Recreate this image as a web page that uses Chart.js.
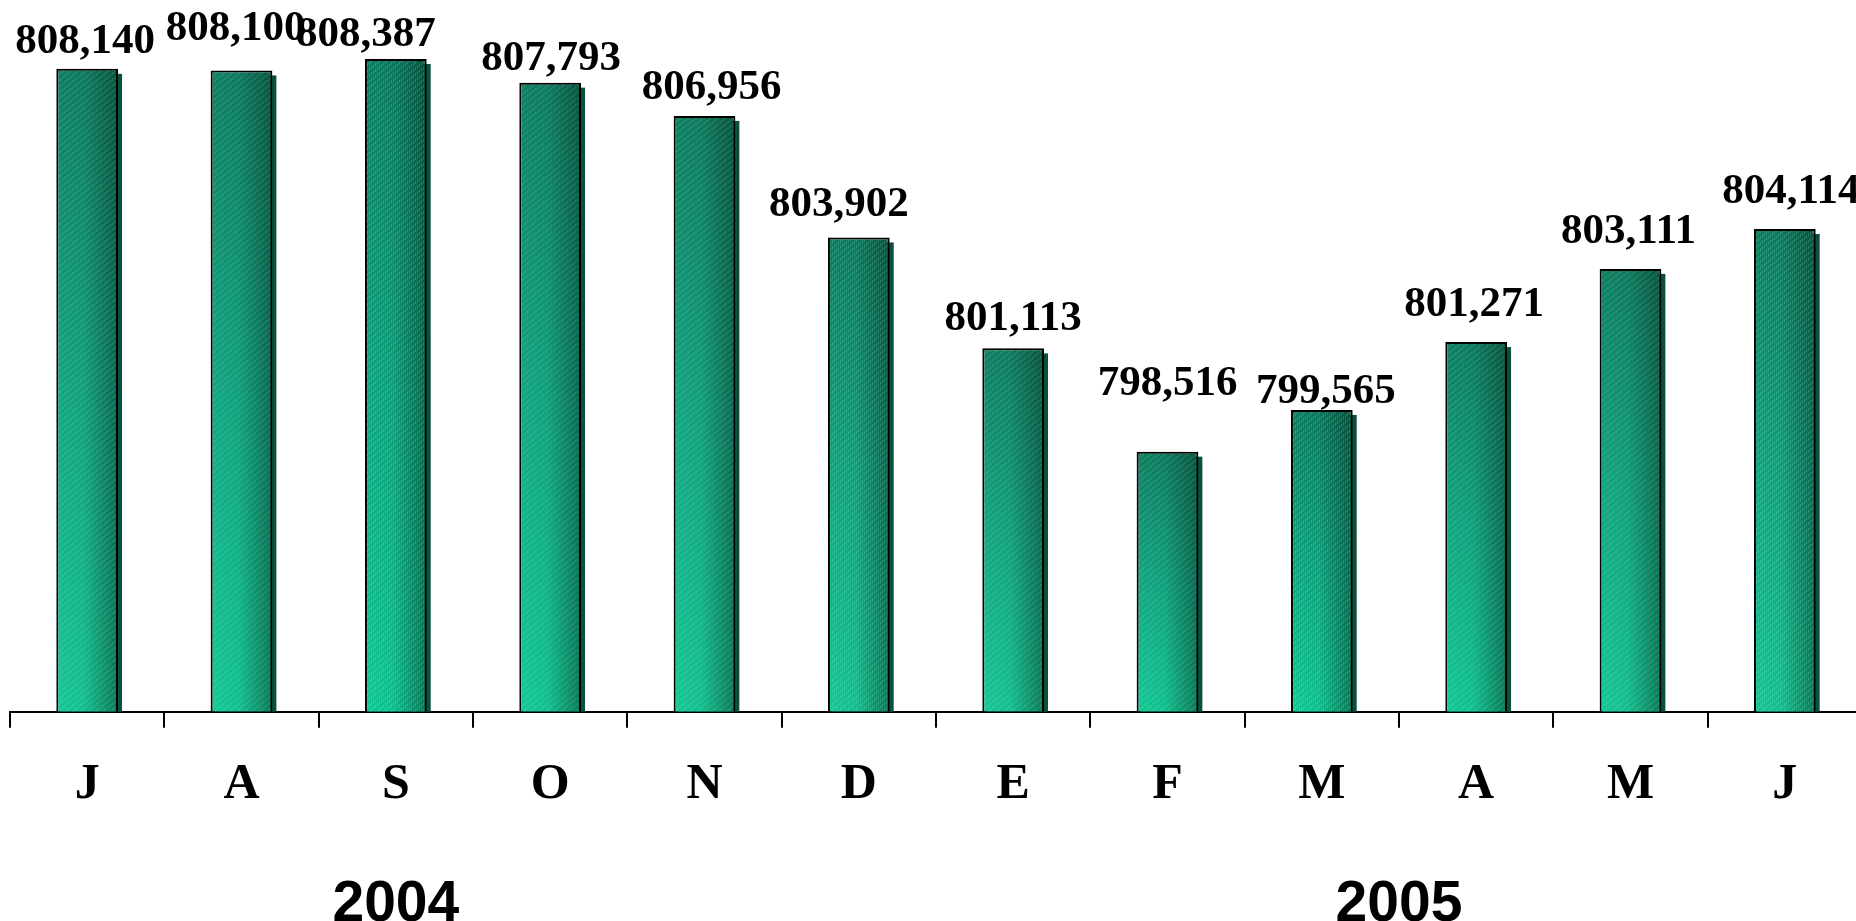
<!DOCTYPE html>
<html>
<head>
<meta charset="utf-8">
<script src="https://cdn.jsdelivr.net/npm/chart.js@4.4.1/dist/chart.umd.min.js"></script>
<style>
  html, body { margin: 0; padding: 0; background: #fff; overflow: hidden; }
  .chartArea { position: relative; width: 1872px; height: 921px; }
</style>
</head>
<body>
<div class="chartArea"><canvas id="chart"></canvas></div>
<script>
const months = ["J", "A", "S", "O", "N", "D", "E", "F", "M", "A", "M", "J"];
const lines = [808140, 808100, 808387, 807793, 806956, 803902, 801113, 798516, 799565, 801271, 803111, 804114];
const years = ["2004", "2005"];
const yearAt = [2, 8.5]; // category index under which each year sits

const yMin = 791980;
const yMax = 809870;

// textured teal fill, one per bar
function barFill(ctx, el) {
  const w = Math.max(1, Math.round(el.width));
  const h = Math.max(1, Math.round(el.base - el.y));
  const off = document.createElement("canvas");
  off.width = w;
  off.height = h;
  const g = off.getContext("2d");

  let grad = g.createLinearGradient(0, h, 0, 0);
  grad.addColorStop(0, "#12c894");
  grad.addColorStop(0.5, "#10a580");
  grad.addColorStop(1, "#0c7c5f");
  g.fillStyle = grad;
  g.fillRect(0, 0, w, h);

  grad = g.createLinearGradient(0, 0, w, 0);
  grad.addColorStop(0, "rgba(0,35,25,0)");
  grad.addColorStop(0.45, "rgba(0,35,25,0.06)");
  grad.addColorStop(1, "rgba(0,35,25,0.5)");
  g.fillStyle = grad;
  g.fillRect(0, 0, w, h);

  // small light dashes running up to the right
  g.fillStyle = "rgba(190,255,230,0.22)";
  for (let x = 0; x < w; x += 2) {
    const shift = (x * 0.8) % 6;
    for (let y = -shift; y < h; y += 6) {
      g.fillRect(x, y, 1, 3);
    }
  }

  const p = ctx.createPattern(off, "no-repeat");
  p.setTransform(new DOMMatrix().translate(el.x - el.width / 2, el.y));
  return p;
}

const barLook = {
  id: "barLook",
  beforeDatasetsDraw(chart) {
    const ctx = chart.ctx;
    const bars = chart.getDatasetMeta(0).data;
    ctx.save();
    ctx.fillStyle = "#0b4f3d";
    bars.forEach((el) => {
      // dark sliver on the right side
      ctx.fillRect(el.x - el.width / 2 + 4, el.y + 5, el.width, el.base - el.y - 5);
      el.options.backgroundColor = barFill(ctx, el);
    });
    ctx.restore();
  },
};

const valueLabels = {
  id: "valueLabels",
  afterDatasetsDraw(chart, args, opts) {
    const ctx = chart.ctx;
    const bars = chart.getDatasetMeta(0).data;
    ctx.save();
    ctx.font = "bold 43px 'Liberation Serif', 'Times New Roman', serif";
    ctx.fillStyle = "#000";
    ctx.textAlign = "center";
    ctx.textBaseline = "alphabetic";
    bars.forEach((el, i) => {
      const txt = lines[i].toLocaleString("en-US");
      ctx.fillText(txt, el.x + opts.dx[i], el.y - opts.gap[i]);
    });
    ctx.restore();
  },
};

new Chart(document.getElementById("chart"), {
  type: "bar",
  data: {
    labels: months,
    datasets: [
      {
        data: lines,
        base: yMin,
        backgroundColor: () => "#10a580",
        borderColor: "#000",
        borderWidth: 2,
        barPercentage: 0.4,
        categoryPercentage: 1,
        clip: 0,
      },
    ],
  },
  options: {
    responsive: true,
    maintainAspectRatio: false,
    animation: false,
    events: [],
    layout: { padding: { left: 10, right: 10, top: 0, bottom: 0 } },
    plugins: {
      legend: { display: false },
      tooltip: { enabled: false },
      // hand-placed labels like the original slide
      valueLabels: {
        dx: [-2, -6, -30, 1, 7, -20, 0, 0, 4, -2, -2, 6],
        gap: [16, 30, 13, 13, 17, 21, 18, 57, 7, 26, 26, 26],
      },
    },
    scales: {
      y: {
        display: false,
        min: yMin,
        max: yMax,
      },
      x: {
        position: "bottom",
        weight: 0,
        grid: {
          offset: true,
          drawOnChartArea: false,
          drawTicks: true,
          tickLength: 16,
          color: "#000",
          lineWidth: 2,
        },
        border: { display: true, color: "#000", width: 2 },
        ticks: {
          color: "#000",
          padding: 27,
          maxRotation: 0,
          autoSkip: false,
          font: { family: "'Liberation Serif', 'Times New Roman', serif", size: 50, weight: "bold" },
        },
        afterFit(scale) {
          scale.height = 110;
        },
      },
      years: {
        type: "linear",
        position: "bottom",
        weight: 1,
        offset: false,
        min: -0.5,
        max: 11.5,
        grid: { display: false },
        border: { display: false },
        afterBuildTicks(axis) {
          axis.ticks = yearAt.map((v) => ({ value: v }));
        },
        ticks: {
          color: "#000",
          padding: 41,
          autoSkip: false,
          maxRotation: 0,
          font: { family: "'Liberation Sans', Arial, sans-serif", size: 57, weight: "bold" },
          callback: (v) => years[yearAt.indexOf(v)],
        },
        afterFit(scale) {
          scale.height = 99.3;
        },
      },
    },
  },
  plugins: [barLook, valueLabels],
});
</script>
</body>
</html>
